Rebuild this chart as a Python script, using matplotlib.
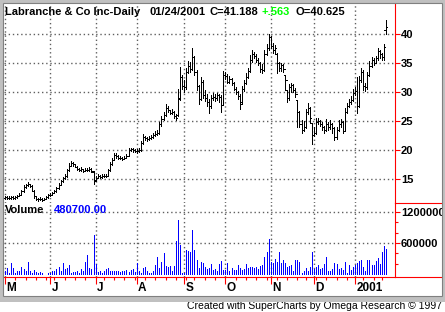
import numpy as np
import pandas as pd
import matplotlib
matplotlib.use("Agg")
import matplotlib.pyplot as plt
import matplotlib.transforms as mtransforms
from matplotlib.lines import Line2D
from matplotlib.patches import Rectangle

plt.rcParams['font.family'] = ['Liberation Sans', 'DejaVu Sans']

# trading days 05/01/2000 .. 01/24/2001
holidays = ['2000-05-29', '2000-07-04', '2000-09-04', '2000-11-23',
            '2000-12-25', '2001-01-01', '2001-01-15']
dates = pd.bdate_range('2000-05-01', '2001-01-24', freq='C', holidays=holidays)

# daily OHLC, one line per month (May .. Jan)
opens = [
    11.8, 11.9, 11.8, 11.8, 11.9, 11.8, 11.9, 12.1, 12.3, 12.9, 13.6, 13.9, 14.1, 13.8, 13.0, 12.0, 11.6, 11.5, 11.6, 11.4, 11.6, 11.9,
    12.2, 12.3, 12.6, 12.9, 13.4, 14.0, 14.6, 15.1, 15.5, 16.5, 17.3, 17.8, 17.5, 17.1, 16.8, 16.5, 16.7, 16.4, 16.6, 16.5, 16.8, 16.2,
    14.8, 15.2, 15.5, 15.4, 15.5, 15.6, 15.6, 16.5, 17.6, 18.3, 19.1, 19.0, 18.7, 18.6, 18.5, 18.7, 19.0, 20.0, 20.1, 20.0,
    19.9, 19.8, 20.0, 21.2, 22.2, 22.0, 21.9, 22.1, 22.3, 22.6, 22.8, 23.0, 24.4, 25.4, 26.0, 27.3, 26.9, 26.4, 26.6, 25.9, 26.0, 29.0, 32.5,
    31.0, 30.8, 33.5, 34.5, 34.0, 36.0, 33.5, 31.0, 28.8, 31.8, 29.5, 29.0, 28.2, 27.5, 28.9, 29.2, 29.0, 29.4, 29.1, 27.8,
    33.0, 32.8, 31.8, 32.2, 31.5, 30.6, 30.0, 29.3, 28.2, 30.5, 31.5, 32.6, 33.6, 35.5, 36.6, 36.2, 35.6, 35.0, 34.0, 33.8, 36.5, 37.5,
    39.5, 38.0, 37.2, 36.5, 35.0, 34.2, 34.6, 33.0, 30.3, 29.0, 30.8, 31.2, 30.3, 28.6, 26.5, 24.5, 23.5, 24.0, 26.5, 27.2, 24.7,
    22.5, 23.0, 24.8, 25.0, 24.5, 24.0, 23.5, 24.5, 24.0, 24.5, 23.8, 22.2, 23.5, 24.5, 24.8, 23.2, 26.5, 27.6, 28.2, 28.6,
    29.8, 30.2, 27.5, 32.0, 33.5, 31.0, 30.8, 33.0, 34.5, 35.5, 35.0, 35.8, 37.0, 36.5, 36.0, 40.625,
]
highs = [
    12.1, 12.0, 12.0, 12.1, 12.0, 12.1, 12.3, 12.5, 13.1, 13.9, 14.2, 14.4, 14.2, 13.9, 13.1, 12.1, 11.8, 11.9, 11.8, 11.8, 12.1, 12.4,
    12.5, 12.8, 13.1, 13.7, 14.3, 14.9, 15.4, 15.9, 16.8, 17.7, 18.1, 17.9, 17.6, 17.2, 16.9, 17.0, 16.8, 16.9, 16.9, 17.1, 16.9, 16.3,
    15.6, 15.8, 15.7, 15.8, 15.9, 15.8, 16.8, 18.0, 18.7, 19.5, 19.4, 19.1, 18.9, 18.8, 19.0, 19.3, 20.4, 20.4, 20.3, 20.2,
    20.2, 20.3, 21.6, 22.7, 22.4, 22.3, 22.4, 22.6, 22.9, 23.2, 23.5, 24.8, 25.8, 26.5, 27.9, 27.5, 26.9, 27.0, 26.7, 26.2, 30.5, 34.3, 33.0,
    32.0, 34.2, 35.3, 35.2, 37.6, 36.2, 33.8, 31.2, 32.6, 32.0, 30.3, 29.6, 28.8, 29.5, 29.8, 29.6, 29.9, 29.7, 29.4, 33.6,
    33.5, 33.1, 32.7, 32.4, 31.7, 30.9, 30.2, 29.6, 31.0, 32.0, 33.2, 34.1, 36.3, 37.3, 36.9, 36.5, 35.8, 35.2, 34.8, 37.2, 38.2, 40.0,
    39.7, 38.4, 38.1, 36.7, 35.2, 35.0, 34.9, 33.0, 30.3, 31.3, 31.6, 31.3, 30.7, 28.6, 26.8, 25.2, 25.0, 27.0, 28.1, 27.4, 24.7,
    24.0, 25.5, 25.6, 25.2, 24.8, 24.2, 25.3, 24.8, 25.2, 24.7, 24.0, 24.0, 25.2, 25.4, 25.0, 27.2, 28.1, 28.8, 29.3, 30.6,
    30.9, 32.6, 32.7, 34.1, 33.8, 31.5, 33.4, 35.3, 36.0, 35.8, 36.2, 37.6, 37.3, 36.8, 38.2, 42.4,
]
lows = [
    11.6, 11.6, 11.6, 11.6, 11.6, 11.6, 11.8, 12.0, 12.2, 12.8, 13.4, 13.8, 13.6, 12.9, 11.8, 11.3, 11.2, 11.3, 11.2, 11.3, 11.5, 11.8,
    12.0, 12.2, 12.5, 12.8, 13.3, 13.9, 14.5, 15.0, 15.4, 16.4, 17.2, 17.3, 17.0, 16.6, 16.3, 16.4, 16.2, 16.3, 16.3, 16.4, 16.2, 14.2,
    14.7, 15.1, 15.2, 15.2, 15.3, 15.3, 15.5, 16.4, 17.4, 18.2, 18.7, 18.5, 18.4, 18.3, 18.4, 18.6, 18.9, 19.8, 19.7, 19.6,
    19.5, 19.6, 19.9, 21.0, 21.7, 21.6, 21.8, 21.9, 22.1, 22.4, 22.6, 22.8, 24.2, 25.2, 25.8, 26.5, 26.2, 26.2, 25.6, 25.2, 25.8, 28.6, 30.5,
    30.0, 30.6, 33.2, 33.5, 33.8, 33.0, 30.3, 28.0, 28.7, 29.0, 28.4, 27.6, 26.4, 27.3, 28.6, 28.5, 28.7, 28.3, 26.5, 27.7,
    32.3, 31.5, 31.5, 31.2, 30.3, 29.6, 28.8, 27.0, 28.0, 30.2, 31.3, 32.4, 33.4, 35.2, 35.8, 35.1, 34.6, 33.4, 33.3, 33.6, 36.3, 37.3,
    37.6, 36.8, 36.8, 33.3, 33.6, 33.7, 33.4, 30.3, 28.3, 28.7, 30.0, 30.0, 29.1, 24.0, 24.0, 22.9, 23.2, 23.8, 26.2, 24.7, 21.0,
    22.4, 22.8, 24.4, 24.1, 23.5, 23.0, 23.2, 23.5, 23.7, 23.0, 21.7, 21.9, 23.3, 24.0, 22.9, 23.2, 26.3, 27.4, 27.9, 28.4,
    29.5, 26.4, 27.4, 31.8, 30.3, 30.2, 30.6, 32.8, 34.3, 34.6, 35.0, 35.6, 35.9, 35.5, 35.6, 40.0,
]
closes = [
    11.9, 11.8, 11.8, 11.9, 11.8, 11.9, 12.1, 12.3, 12.9, 13.6, 13.9, 14.1, 13.8, 13.0, 12.0, 11.6, 11.5, 11.6, 11.4, 11.6, 11.9, 12.2,
    12.3, 12.6, 12.9, 13.4, 14.0, 14.6, 15.1, 15.5, 16.5, 17.3, 17.8, 17.5, 17.1, 16.8, 16.5, 16.7, 16.4, 16.6, 16.5, 16.8, 16.4, 14.6,
    15.2, 15.5, 15.4, 15.5, 15.6, 15.5, 16.5, 17.6, 18.3, 19.1, 19.0, 18.7, 18.6, 18.5, 18.7, 18.9, 20.0, 20.1, 20.0, 19.9,
    19.8, 20.0, 21.2, 22.2, 22.0, 21.9, 22.1, 22.3, 22.6, 22.8, 23.0, 24.4, 25.4, 26.0, 27.3, 26.9, 26.4, 26.6, 25.9, 25.5, 28.8, 32.5, 31.0,
    30.8, 33.5, 34.5, 34.0, 36.0, 33.5, 31.0, 28.8, 31.8, 29.5, 29.0, 28.2, 27.5, 28.9, 29.2, 29.0, 29.4, 29.1, 27.8, 33.0,
    32.8, 31.8, 32.2, 31.5, 30.6, 30.0, 29.3, 28.0, 30.5, 31.5, 32.6, 33.6, 35.5, 36.6, 36.2, 35.6, 35.0, 34.0, 33.8, 36.5, 37.5, 39.5,
    38.0, 37.2, 37.6, 35.0, 34.2, 34.6, 34.0, 32.0, 29.0, 30.8, 31.2, 30.3, 29.6, 26.5, 24.5, 23.5, 24.0, 26.5, 27.2, 25.5, 22.5,
    23.0, 24.8, 25.0, 24.5, 24.0, 23.5, 24.5, 24.0, 24.5, 23.8, 22.2, 23.5, 24.5, 24.8, 23.2, 26.5, 27.6, 28.2, 28.6, 29.8,
    30.2, 27.5, 32.0, 33.5, 31.0, 30.8, 33.0, 34.5, 35.5, 35.0, 35.8, 37.0, 36.5, 36.0, 37.8, 41.188,
]
# daily volume in thousands of shares
volume_k = [
    58, 116, 26, 219, 116, 26, 52, 65, 129, 103, 52, 239, 65, 26, 70, 45, 26, 39, 26, 0, 0, 13,
    26, 65, 52, 90, 142, 52, 219, 103, 116, 174, 26, 39, 39, 65, 13, 90, 52, 239, 374, 116, 103, 761,
    194, 45, 65, 26, 52, 90, 110, 65, 65, 52, 65, 52, 39, 65, 52, 77, 39, 77, 90, 39,
    219, 52, 26, 116, 142, 58, 26, 26, 65, 174, 335, 110, 239, 400, 155, 142, 155, 65, 160, 645, 1045, 561, 13,
    13, 464, 445, 432, 850, 464, 270, 116, 226, 206, 129, 103, 116, 194, 77, 103, 52, 194, 252, 77,
    77, 219, 65, 116, 77, 77, 174, 116, 77, 90, 194, 116, 129, 129, 116, 129, 90, 155, 174, 335, 426, 677,
    232, 206, 290, 232, 426, 219, 271, 206, 129, 155, 174, 58, 271, 271, 232, 13, 58, 116, 58, 135, 426,
    90, 135, 174, 103, 116, 194, 329, 58, 58, 97, 213, 194, 97, 116, 77, 232, 13, 174, 77, 135,
    174, 213, 252, 271, 135, 58, 271, 271, 174, 174, 252, 310, 194, 426, 542, 480.7,
]

month_labels = ['M', 'J', 'J', 'A', 'S', 'O', 'N', 'D', '2001']
price_ticks = [15, 20, 25, 30, 35, 40]
vol_ticks = [600000, 1200000]
vol_minor = [200000, 400000, 800000, 1000000]

title = 'Labranche & Co Inc-Daily'
last_date = '01/24/2001'
last_close = 'C=41.188'
last_change = '+.563'
last_open = 'O=40.625'
last_volume = '480700.00'
credit = 'Created with SuperCharts by Omega Research \u00a9 1997'

W, H = 445, 312
RED = '#ff0000'
GRID = '#606060'
PX = 0.72          # one pixel, in points
dots = (0, (1, 2))

fig = plt.figure(figsize=(W / 100, H / 100), dpi=100)
fig.patch.set_facecolor('white')

ax = fig.add_axes([4 / W, 1 - 203 / H, 391 / W, 199 / H])
axv = fig.add_axes([4 / W, 1 - 277 / H, 391 / W, 74 / H], sharex=ax)

x = np.arange(len(dates))
month_start = [i for i in range(len(dates)) if i == 0 or dates[i].month != dates[i - 1].month]
week_start = [i for i in range(1, len(dates)) if dates[i].weekday() < dates[i - 1].weekday()]

# dotted grid first, so the bars sit on top
grid_kw = dict(color=GRID, ls=dots, lw=1.0, zorder=1)
for a in (ax, axv):
    for i in month_start:
        a.axvline(i, **grid_kw)
for p in price_ticks:
    ax.axhline(p, **grid_kw)
for v in vol_ticks:
    axv.axhline(v, **grid_kw)

# price bars
ax.vlines(x, lows, highs, color='black', lw=PX, antialiased=False, zorder=2)
ax.hlines(opens, x - 0.75, x, color='black', lw=PX, antialiased=False, zorder=2)
ax.hlines(closes, x, x + 0.75, color='black', lw=PX, antialiased=False, zorder=2)
ax.set_xlim(-0.49, 189.4)
ax.set_ylim(10.86, 45.17)

# volume bars
axv.vlines(x, 0, np.array(volume_k) * 1000, color='#0000ff', lw=PX, antialiased=False, zorder=2)
axv.set_ylim(-58000, 1374000)

for a in (ax, axv):
    a.set_facecolor('none')
    for s in a.spines.values():
        s.set_visible(False)
    a.spines['right'].set_visible(True)
    a.spines['right'].set_color(RED)
    a.spines['right'].set_linewidth(0.8)
    a.yaxis.tick_right()

ax.set_yticks(price_ticks)
ax.set_yticklabels([str(p) for p in price_ticks])
ax.tick_params(axis='y', colors=RED, labelcolor='black', length=3.6, width=0.8,
               pad=0.8, labelsize=8)

axv.set_yticks(vol_ticks)
axv.set_yticklabels([str(v) for v in vol_ticks])
axv.set_yticks(vol_minor, minor=True)
axv.tick_params(axis='y', which='major', colors=RED, labelcolor='black', length=3.6,
                width=0.8, pad=0.8, labelsize=8)
axv.tick_params(axis='y', which='minor', colors=RED, length=2.2, width=0.8)

axv.spines['bottom'].set_visible(True)
axv.spines['bottom'].set_color(RED)
axv.spines['bottom'].set_linewidth(0.8)
axv.set_xticks(month_start)
axv.set_xticks(week_start, minor=True)
axv.tick_params(axis='x', which='major', colors=RED, length=5, width=0.8, labelbottom=False)
axv.tick_params(axis='x', which='minor', colors=RED, length=2.2, width=0.8)
ax.tick_params(axis='x', which='both', bottom=False, top=False, labelbottom=False)

for a in (ax, axv):
    for lab in a.get_yticklabels():
        lab.set_fontweight('bold')

# month letters to the right of the month ticks
trans = mtransforms.offset_copy(axv.get_xaxis_transform(), fig=fig, x=1.2, y=0, units='dots')
for i, lab in zip(month_start, month_labels):
    axv.text(i, (277 - 291) / 74, lab, transform=trans, ha='left', va='baseline',
             fontsize=8.5, fontweight='bold', color='black')

# header texts (pixel positions)
def fx(px):
    return px / W

def fy(py):
    return 1 - py / H

fig.text(fx(5), fy(15), title, fontsize=8, fontweight='bold', va='baseline')
fig.text(fx(149), fy(15), last_date, fontsize=8, fontweight='bold', va='baseline')
fig.text(fx(209), fy(15), last_close, fontsize=8, fontweight='bold', va='baseline')
fig.text(fx(262), fy(15), last_change, fontsize=8, fontweight='bold', va='baseline', color='#00ff00')
fig.text(fx(295), fy(15), last_open, fontsize=8, fontweight='bold', va='baseline')
fig.text(fx(5), fy(213), 'Volume', fontsize=8, fontweight='bold', va='baseline')
fig.text(fx(54), fy(213), last_volume, fontsize=8, fontweight='bold', va='baseline', color='#0000ff')
fig.text(fx(442), fy(309), credit, fontsize=7.5, ha='right', va='baseline')

# red separators on the scale side
fig.add_artist(Line2D([fx(395), fx(441)], [fy(203), fy(203)], color=RED, lw=0.8))
fig.add_artist(Line2D([fx(395), fx(441)], [fy(277), fy(277)], color=RED, lw=0.8))

# grey window frame
fig.add_artist(Rectangle((0, fy(298.5)), 1, 298.5 / H, transform=fig.transFigure,
                         fill=False, edgecolor='#c0c0c0', lw=3.6, zorder=5))
fig.add_artist(Rectangle((fx(3), fy(296)), fx(438.5), 293 / H, transform=fig.transFigure,
                         fill=False, edgecolor='#808080', lw=0.8, zorder=5))

fig.savefig('out.png', dpi=100, facecolor='white')
